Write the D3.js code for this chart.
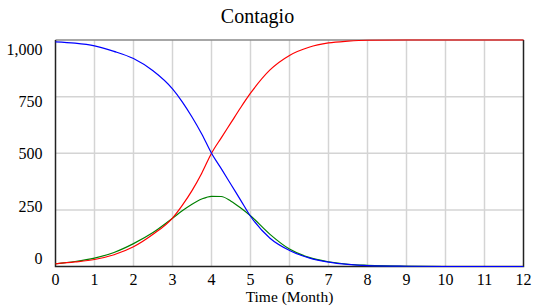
<!doctype html>
<html lang="en">
  <head>
    <meta charset="utf-8">
    <title>Contagio</title>
    <style>
      body {
        margin: 0;
        background: white;
      }
    </style>
  </head>
  <body>
    <div id="chart"></div>

    <script src="https://d3js.org/d3.v7.min.js"></script>
    <script type="text/javascript">
      // months
      const time  = [0, 0.5, 1, 1.5, 2, 2.5, 3, 3.25, 3.5, 3.75, 4, 4.25, 4.5, 4.75, 5, 5.5, 6, 6.5, 7, 7.5, 8, 9, 10, 11, 12];
      // series
      const blue  = [992, 986, 974, 950, 918, 864, 784, 727, 660, 585, 500, 432, 362, 292, 222, 125, 71, 38, 19, 9, 4, 1, 0, 0, 0];
      const red   = [12, 20, 31, 52, 87, 142, 214, 270, 335, 412, 500, 568, 635, 702, 765, 868, 932, 968, 987, 995, 999, 1000, 1000, 1000, 1000];
      const green = [12, 22, 37, 62, 101, 150, 213, 246, 275, 298, 310, 309, 288, 258, 224, 142, 77, 40, 21, 10, 5, 1, 0, 0, 0];

      const xTicks = [0, 1, 2, 3, 4, 5, 6, 7, 8, 9, 10, 11, 12];
      const yTicks = [0, 250, 500, 750, 1000];

      const w = 534;
      const h = 306;
      const serif = 'Liberation Serif';

      const pLeft = 55.5, pRight = 523.5, pTop = 40, pBottom = 266.5;

      const svg = d3.select('#chart')
                    .append('svg')
                    .attr('width', w)
                    .attr('height', h);

      const x = d3.scaleLinear().domain([0, 12]).range([pLeft, pRight]);
      const y = d3.scaleLinear().domain([0, 1000]).range([pBottom, pTop]);
      // labels on the value axis sit a bit inside the frame
      const yLab = d3.scaleLinear().domain([0, 1000]).range([258.7, 49]);

      // grid
      svg.selectAll('.vgrid')
         .data(xTicks.slice(1, -1))
         .enter()
         .append('line')
         .attr('class', 'vgrid')
         .attr('x1', d => x(d))
         .attr('x2', d => x(d))
         .attr('y1', pTop)
         .attr('y2', pBottom)
         .attr('stroke', '#d4d4d4')
         .attr('stroke-width', 1.5);

      svg.selectAll('.hgrid')
         .data(yTicks.slice(1, -1))
         .enter()
         .append('line')
         .attr('class', 'hgrid')
         .attr('x1', pLeft)
         .attr('x2', pRight)
         .attr('y1', d => y(d))
         .attr('y2', d => y(d))
         .attr('stroke', '#d4d4d4')
         .attr('stroke-width', 1.5);

      // frame
      svg.append('line')
        .attr('x1', pLeft).attr('x2', pRight)
        .attr('y1', pTop).attr('y2', pTop)
        .attr('stroke', '#8a8a8a')
        .attr('stroke-width', 1.5);

      svg.append('path')
        .attr('d', `M${pLeft},${pTop}V${pBottom}H${pRight}V${pTop}`)
        .attr('fill', 'none')
        .attr('stroke', '#222')
        .attr('stroke-width', 1.5);

      // tick labels
      svg.selectAll('.ylab')
         .data(yTicks)
         .enter()
         .append('text')
         .attr('class', 'ylab')
         .attr('x', 42.5)
         .attr('y', d => yLab(d))
         .attr('dy', '0.35em')
         .attr('text-anchor', 'end')
         .attr('font-family', serif)
         .attr('font-size', 16)
         .text(d => d3.format(',')(d));

      svg.selectAll('.xlab')
         .data(xTicks)
         .enter()
         .append('text')
         .attr('class', 'xlab')
         .attr('x', d => x(d))
         .attr('y', 285)
         .attr('text-anchor', 'middle')
         .attr('font-family', serif)
         .attr('font-size', 16)
         .text(d => d);

      svg.append('text')
        .attr('x', (pLeft + pRight) / 2)
        .attr('y', 302)
        .attr('text-anchor', 'middle')
        .attr('font-family', serif)
        .attr('font-size', 15.5)
        .text('Time (Month)');

      svg.append('text')
        .attr('x', 257.5)
        .attr('y', 23)
        .attr('text-anchor', 'middle')
        .attr('font-family', serif)
        .attr('font-size', 20)
        .text('Contagio');

      // series
      const line = d3.line()
                     .x((d, i) => x(time[i]))
                     .y(d => y(d))
                     .curve(d3.curveMonotoneX);

      const series = [
        {values: green, color: '#008000'},
        {values: red, color: '#ff0000'},
        {values: blue, color: '#0000ff'}
      ];

      svg.selectAll('.series')
         .data(series)
         .enter()
         .append('path')
         .attr('class', 'series')
         .attr('d', d => line(d.values))
         .attr('fill', 'none')
         .attr('stroke', d => d.color)
         .attr('stroke-width', 1.2);
    </script>
  </body>
</html>
